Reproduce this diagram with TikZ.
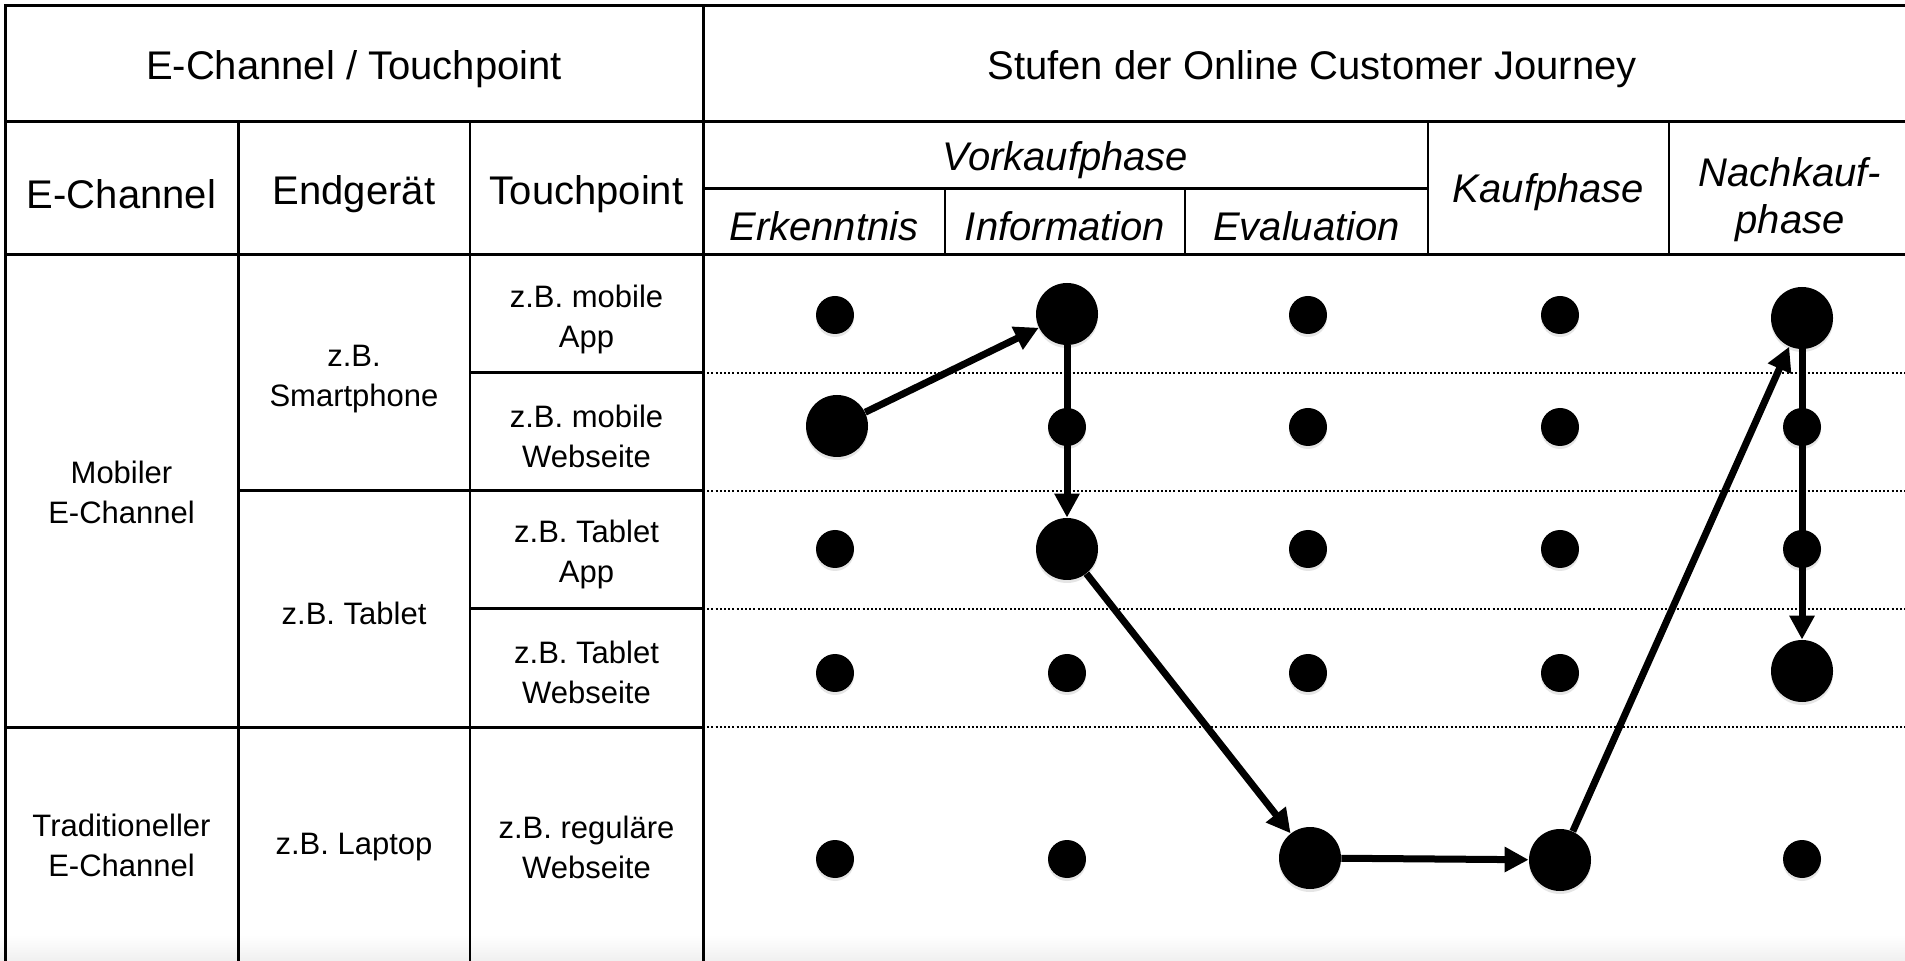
\documentclass[tikz,border=0pt]{standalone}
\usepackage{fontspec}
\setmainfont{Liberation Sans}
\usetikzlibrary{arrows.meta,shadows}
\begin{document}
\begin{tikzpicture}[x=0.5pt,y=-0.5pt,
  thickline/.style={line width=1.5pt},
  thinline/.style={line width=0.9pt},
  sepline/.style={line width=1.3pt, dash pattern=on 1pt off 1.1pt},
  hdr/.style={align=center, inner sep=0pt, font=\fontsize{20}{23.5}\selectfont},
  hdrit/.style={align=center, inner sep=0pt, font=\fontsize{20}{23.5}\selectfont\itshape},
  txt/.style={align=center, inner sep=0pt, font=\fontsize{15.5}{20}\selectfont},
  sdot/.style={circle, fill=black, inner sep=0pt, minimum size=19pt,
    drop shadow={shadow xshift=0pt, shadow yshift=-1.5pt, opacity=0.2}},
  bdot/.style={sdot, minimum size=31pt},
  flow/.style={-{Triangle[length=12pt,width=12pt]}, line width=3.5pt}
]
\useasboundingbox (0,0) rectangle (1905,961);
\fill[white] (0,0) rectangle (1905,961);
\shade[top color=white, bottom color=black!6] (0,935) rectangle (1905,961);

% table lines
\draw[thickline] (5,961) -- (5,6) -- (1905,6);
\draw[thickline] (5,122) -- (1905,122);
\draw[thickline] (5,255) -- (1905,255);
\draw[thickline] (703,6) -- (703,961);
\draw[thickline] (238,122) -- (238,961);
\draw[thinline] (470,122) -- (470,961);
\draw[thickline] (703,189) -- (1428,189);
\draw[thinline] (945,189) -- (945,255);
\draw[thinline] (1185,189) -- (1185,255);
\draw[thinline] (1428,122) -- (1428,255);
\draw[thinline] (1669,122) -- (1669,255);
\draw[thickline] (470,373) -- (703,373);
\draw[thickline] (238,491) -- (703,491);
\draw[thickline] (470,609) -- (703,609);
\draw[thickline] (5,727) -- (703,727);
\draw[sepline] (703,373) -- (1905,373);
\draw[sepline] (703,491) -- (1905,491);
\draw[sepline] (703,609) -- (1905,609);
\draw[sepline] (703,727) -- (1905,727);

% header texts
\node[hdr] (h1) at (354,69) {E-Channel / Touchpoint};
\node[hdr] (h2) at (1312,69) {Stufen der Online Customer Journey};
\node[hdr] (hec) at (121.5,194) {E-Channel};
\node[hdr] (heg) at (354,194) {Endgerät};
\node[hdr] (htp) at (586.5,194) {Touchpoint};
\node[hdrit] (hvk) at (1065.5,160) {Vorkaufphase};
\node[hdrit] (her) at (824,226) {Erkenntnis};
\node[hdrit] (hin) at (1065,226) {Information};
\node[hdrit] (hev) at (1306.5,226) {Evaluation};
\node[hdrit] (hkp) at (1548.5,192) {Kaufphase};
\node[hdrit] (hnk) at (1790,200) {Nachkauf-\\phase};

% body texts
\node[txt] (mob) at (121.5,492) {Mobiler\\E-Channel};
\node[txt] (sp) at (354,379) {z.B.\\Smartphone};
\node[txt] (tab) at (354,613) {z.B. Tablet};
\node[txt] (t1) at (586.5,319) {z.B. mobile\\App};
\node[txt] (t2) at (586.5,436) {z.B. mobile\\Webseite};
\node[txt] (t3) at (586.5,554) {z.B. Tablet\\App};
\node[txt] (t4) at (586.5,672) {z.B. Tablet\\Webseite};
\node[txt] (tra) at (121.5,845) {Traditioneller\\E-Channel};
\node[txt] (lap) at (354,847) {z.B. Laptop};
\node[txt] (t5) at (586.5,847) {z.B. reguläre\\Webseite};

% dots: columns a=Erkenntnis b=Information c=Evaluation d=Kauf e=Nachkauf
\node[sdot] (a1) at (835,315) {};
\node[bdot] (b1) at (1067,314) {};
\node[sdot] (c1) at (1308,315) {};
\node[sdot] (d1) at (1560,315) {};
\node[bdot] (e1) at (1802,318) {};

\node[bdot] (a2) at (837,426) {};
\node[sdot] (b2) at (1067,427) {};
\node[sdot] (c2) at (1308,427) {};
\node[sdot] (d2) at (1560,427) {};
\node[sdot] (e2) at (1802,427) {};

\node[sdot] (a3) at (835,549) {};
\node[bdot] (b3) at (1067,549) {};
\node[sdot] (c3) at (1308,549) {};
\node[sdot] (d3) at (1560,549) {};
\node[sdot] (e3) at (1802,549) {};

\node[sdot] (a4) at (835,673) {};
\node[sdot] (b4) at (1067,673) {};
\node[sdot] (c4) at (1308,673) {};
\node[sdot] (d4) at (1560,673) {};
\node[bdot] (e4) at (1802,671) {};

\node[sdot] (a5) at (835,859) {};
\node[sdot] (b5) at (1067,859) {};
\node[bdot] (c5) at (1310,858) {};
\node[bdot] (d5) at (1560,860) {};
\node[sdot] (e5) at (1802,859) {};

% journey
\draw[flow] (a2) -- (b1);
\draw[flow] (b1) -- (b3);
\draw[flow] (b3) -- (c5);
\draw[flow] (c5) -- (d5);
\draw[flow] (d5) -- (e1);
\draw[flow] (e1) -- (e4);
\end{tikzpicture}
\end{document}
